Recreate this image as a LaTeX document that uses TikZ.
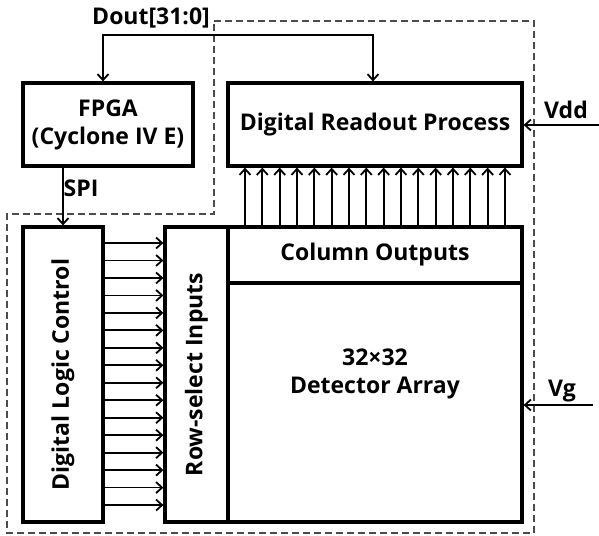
\documentclass[tikz,border=0pt]{standalone}
\usepackage{fontspec}
\setmainfont{Open Sans}
\usetikzlibrary{arrows.meta}

\begin{document}
\begin{tikzpicture}[x=1pt, y=-1pt,
    box/.style={rectangle, draw, line width=3.2pt, inner sep=0pt, align=center, font=\fontsize{23}{28}\selectfont\bfseries},
    arrow/.style={-{Straight Barb[length=6pt,width=11pt]}, line width=1.8pt},
    both/.style={{Straight Barb[length=6pt,width=11pt]}-{Straight Barb[length=6pt,width=11pt]}, line width=1.8pt},
    lbl/.style={font=\fontsize{23}{26}\selectfont\bfseries, inner sep=0pt},
    border/.style={draw=black!70, line width=1.3pt, dash pattern=on 7pt off 4pt}
]
    \useasboundingbox (0,0) rectangle (599,535);

    % Chip border
    \draw[border] (214,21) -- (534,21) -- (534,533) -- (7,533) -- (7,214) -- (214,214) -- cycle;

    % Top blocks
    \node[box, minimum width=170pt, minimum height=83pt] (fpga) at (108,124.5) {FPGA\\(Cyclone IV E)};
    \node[box, minimum width=294pt, minimum height=83pt] (readout) at (375,124.5) {Digital Readout Process};

    % Chip blocks
    \node[box, minimum width=80pt, minimum height=295pt] (logic) at (63,374.5) {};
    \node[box, rotate=90, draw=none, at=(logic.center)] (logictxt) {Digital Logic Control};
    \node[box, minimum width=63pt, minimum height=295pt] (rowsel) at (196.5,374.5) {};
    \node[box, rotate=90, draw=none, at=(rowsel.center)] (rowseltxt) {Row-select Inputs};
    \node[box, minimum width=294pt, minimum height=56pt] (colout) at (375,255) {Column Outputs};
    \node[box, minimum width=294pt, minimum height=239pt] (array) at (375,402.5) {};
    \node[box, draw=none] (arraytxt) at (375,374) {32×32\\Detector Array};

    % Labels
    \node[lbl] (dout) at (151,18) {Dout[31:0]};
    \node[lbl] (spi) at (81,188) {SPI};
    \node[lbl] (vdd) at (566,110) {Vdd};
    \node[lbl] (vg) at (562,391) {Vg};

    % Arrows
    \coordinate (busL) at (103,35);
    \coordinate (busR) at (373,35);
    \draw[both] (fpga.north -| busL) |- (busR) -- (readout.north -| busR);
    \draw[arrow] (fpga.south -| logic.north) -- (logic.north);

    \coordinate (vddin) at (599,125);
    \coordinate (vgin) at (593,405);
    \draw[arrow] (vddin) -- (readout.east |- vddin);
    \draw[arrow] (vgin) -- (array.east |- vgin);

    \foreach \i in {0,...,15} {
        \coordinate (r) at (0,{243+17.47*\i});
        \draw[arrow] (logic.east |- r) -- (rowsel.west |- r);
    }
    \foreach \i in {0,...,15} {
        \coordinate (c) at ({245+17.33*\i},0);
        \draw[arrow] (colout.north -| c) -- (readout.south -| c);
    }
\end{tikzpicture}
\end{document}
